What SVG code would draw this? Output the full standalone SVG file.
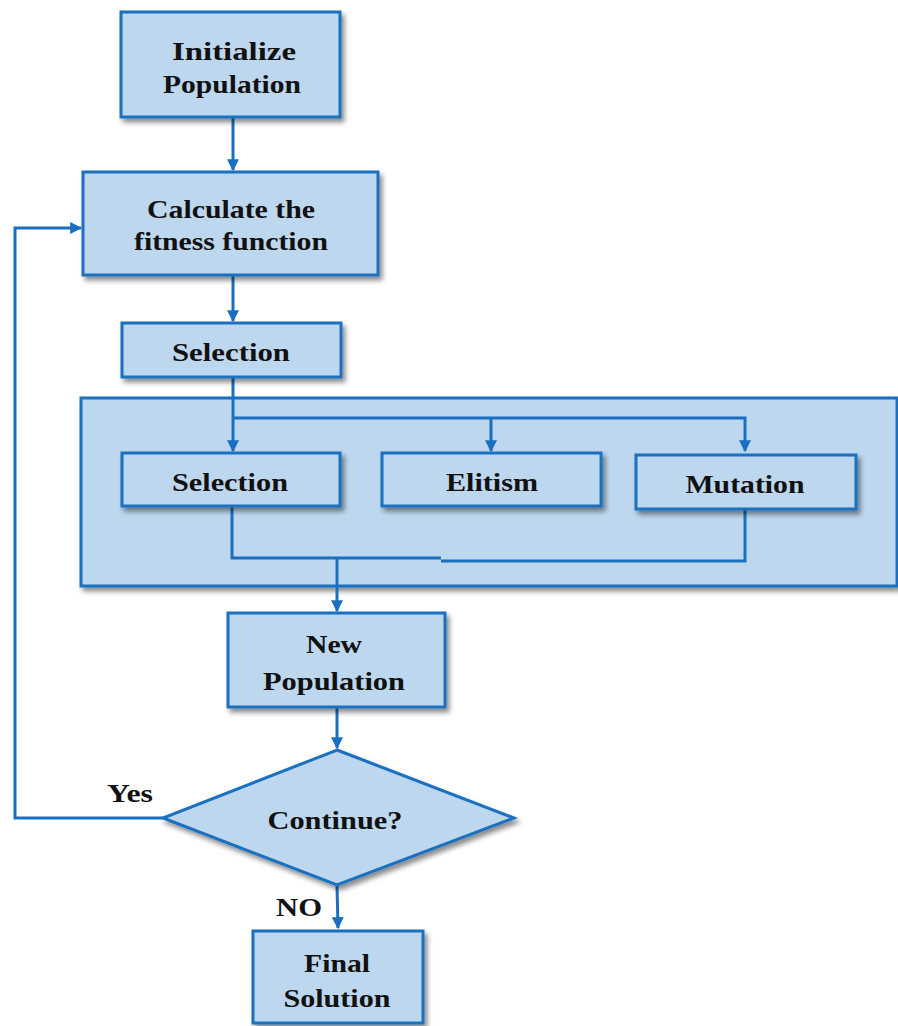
<svg xmlns="http://www.w3.org/2000/svg" width="898" height="1026" viewBox="0 0 898 1026">
<defs>
<filter id="sh" x="-10%" y="-10%" width="130%" height="140%">
<feDropShadow dx="3" dy="4" stdDeviation="2.5" flood-color="#000" flood-opacity="0.45"/>
</filter>
<marker id="ah" viewBox="0 0 10 10" refX="9" refY="5" markerWidth="4" markerHeight="4" orient="auto" markerUnits="strokeWidth">
<path d="M0,0 L10,5 L0,10 z" fill="#1A6FC0"/>
</marker>
<style>
.box{fill:#BDD7EE;stroke:#1A6FC0;stroke-width:3;filter:url(#sh);}
.t{font-family:"Liberation Serif","Times New Roman",serif;font-weight:bold;font-size:26px;fill:#111;text-anchor:middle;}
.c{fill:none;stroke:#1A6FC0;stroke-width:3;}
</style>
</defs>

<g id="container"><rect class="box" x="81" y="398" width="816" height="188"/></g>

<g id="connectors">
<path class="c" d="M233,118 V170" marker-end="url(#ah)"/>
<path class="c" d="M233,276 V321" marker-end="url(#ah)"/>
<path class="c" d="M233,378 V451" marker-end="url(#ah)"/>
<path class="c" d="M233,418 H745 V451" marker-end="url(#ah)"/>
<path class="c" d="M491,418 V451" marker-end="url(#ah)"/>
<path class="c" d="M232,506 V558 H441"/>
<path class="c" d="M745,509 V561 H441"/>
<path class="c" d="M337,558 V611" marker-end="url(#ah)"/>
<path class="c" d="M337,707 V748" marker-end="url(#ah)"/>
<path class="c" d="M337,885 L338,928" marker-end="url(#ah)"/>
<path class="c" d="M163,818 H15 V228 H81" marker-end="url(#ah)"/>
</g>

<g id="init"><rect class="box" x="121" y="12" width="219" height="105"/>
<text class="t" x="234" y="60" textLength="124" lengthAdjust="spacingAndGlyphs">Initialize</text>
<text class="t" x="232" y="93" textLength="138" lengthAdjust="spacingAndGlyphs">Population</text></g>

<g id="calc"><rect class="box" x="83" y="172" width="295" height="103"/>
<text class="t" x="231" y="218" textLength="168" lengthAdjust="spacingAndGlyphs">Calculate the</text>
<text class="t" x="231" y="250" textLength="194" lengthAdjust="spacingAndGlyphs">fitness function</text></g>

<g id="sel1"><rect class="box" x="122" y="323" width="219" height="54"/>
<text class="t" x="231" y="361" textLength="118" lengthAdjust="spacingAndGlyphs">Selection</text></g>

<g id="sel2"><rect class="box" x="122" y="453" width="218" height="53"/>
<text class="t" x="230" y="491" textLength="116" lengthAdjust="spacingAndGlyphs">Selection</text></g>

<g id="elitism"><rect class="box" x="382" y="453" width="219" height="53"/>
<text class="t" x="492" y="491" textLength="92" lengthAdjust="spacingAndGlyphs">Elitism</text></g>

<g id="mutation"><rect class="box" x="636" y="455" width="220" height="54"/>
<text class="t" x="745" y="493" textLength="119" lengthAdjust="spacingAndGlyphs">Mutation</text></g>

<g id="newpop"><rect class="box" x="228" y="613" width="217" height="94"/>
<text class="t" x="334" y="653" textLength="56" lengthAdjust="spacingAndGlyphs">New</text>
<text class="t" x="334" y="690" textLength="142" lengthAdjust="spacingAndGlyphs">Population</text></g>

<g id="decision"><polygon class="box" points="337,750 514,818 337,885 163,818"/>
<text class="t" x="335" y="829" textLength="135" lengthAdjust="spacingAndGlyphs">Continue?</text></g>

<g id="labels">
<text class="t" x="130" y="802" textLength="46" lengthAdjust="spacingAndGlyphs">Yes</text>
<text class="t" x="299" y="916" textLength="46" lengthAdjust="spacingAndGlyphs">NO</text>
</g>

<g id="final"><rect class="box" x="253" y="931" width="170" height="92"/>
<text class="t" x="337" y="972" textLength="66" lengthAdjust="spacingAndGlyphs">Final</text>
<text class="t" x="337" y="1007" textLength="107" lengthAdjust="spacingAndGlyphs">Solution</text></g>
</svg>
